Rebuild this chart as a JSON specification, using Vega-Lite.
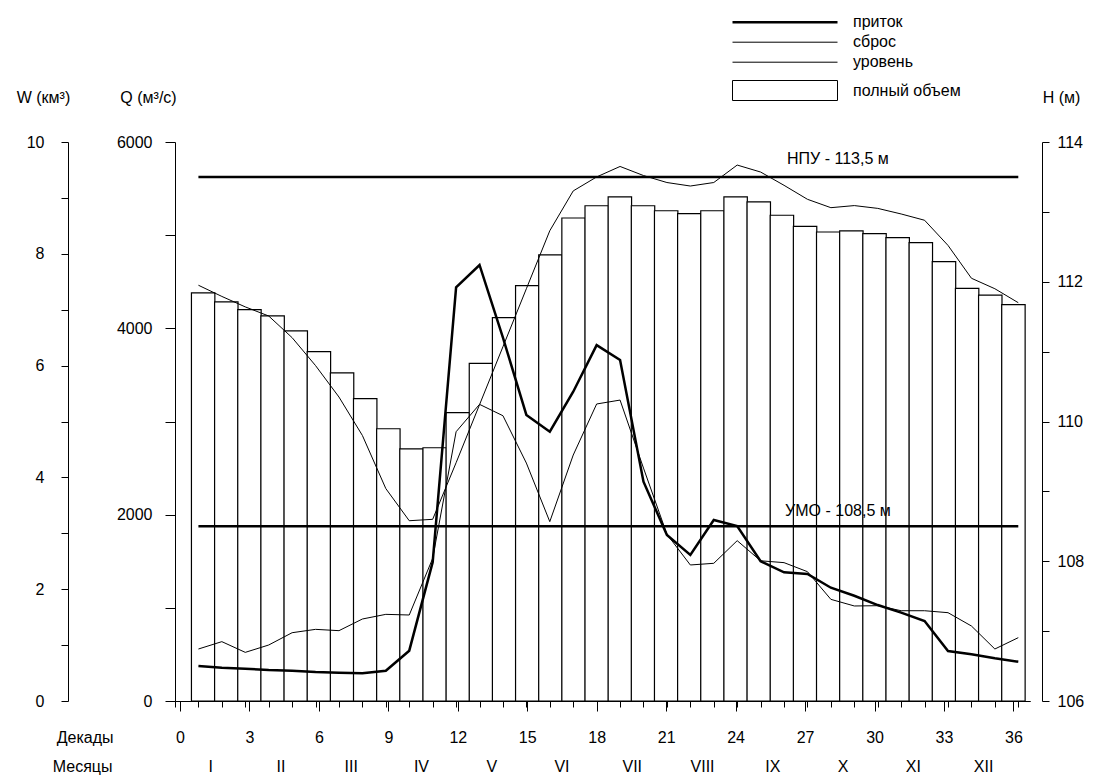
{
  "$schema": "https://vega.github.io/schema/vega-lite/v6.json",
  "width": 855,
  "height": 559,
  "autosize": {"type": "none"},
  "padding": {"left": 175, "top": 142, "right": 66, "bottom": 77},
  "background": "white",
  "config": {
    "font": "Liberation Sans",
    "view": {"stroke": null},
    "axis": {"labelFont": "Liberation Sans", "titleFont": "Liberation Sans", "labelFontSize": 16, "titleFontSize": 16, "titleFontWeight": "normal", "labelColor": "black", "titleColor": "black", "domainColor": "black", "tickColor": "black", "domainWidth": 1, "tickWidth": 1, "grid": false, "labelFlush": false, "labelOverlap": false},
    "legend": {"labelFont": "Liberation Sans", "labelFontSize": 16, "labelColor": "black"}
  },
  "data": {"values": [
    {"декада": 1, "W": 7.30, "приток": 376, "сброс": 558, "уровень": 111.95},
    {"декада": 2, "W": 7.14, "приток": 357, "сброс": 637, "уровень": 111.79},
    {"декада": 3, "W": 7.00, "приток": 347, "сброс": 522, "уровень": 111.64},
    {"декада": 4, "W": 6.89, "приток": 333, "сброс": 601, "уровень": 111.51},
    {"декада": 5, "W": 6.62, "приток": 325, "сброс": 733, "уровень": 111.20},
    {"декада": 6, "W": 6.25, "приток": 311, "сброс": 769, "уровень": 110.80},
    {"декада": 7, "W": 5.87, "приток": 304, "сброс": 755, "уровень": 110.35},
    {"декада": 8, "W": 5.41, "приток": 297, "сброс": 880, "уровень": 109.80},
    {"декада": 9, "W": 4.87, "приток": 325, "сброс": 930, "уровень": 109.04},
    {"декада": 10, "W": 4.51, "приток": 540, "сброс": 923, "уровень": 108.58},
    {"декада": 11, "W": 4.53, "приток": 1490, "сброс": 1530, "уровень": 108.60},
    {"декада": 12, "W": 5.16, "приток": 4440, "сброс": 2890, "уровень": 109.41},
    {"декада": 13, "W": 6.04, "приток": 4680, "сброс": 3184, "уровень": 110.24},
    {"декада": 14, "W": 6.86, "приток": 3900, "сброс": 3062, "уровень": 111.07},
    {"декада": 15, "W": 7.43, "приток": 3070, "сброс": 2554, "уровень": 111.90},
    {"декада": 16, "W": 7.98, "приток": 2890, "сброс": 1925, "уровень": 112.73},
    {"декада": 17, "W": 8.64, "приток": 3320, "сброс": 2640, "уровень": 113.30},
    {"декада": 18, "W": 8.86, "приток": 3820, "сброс": 3188, "уровень": 113.50},
    {"декада": 19, "W": 9.02, "приток": 3660, "сброс": 3230, "уровень": 113.65},
    {"декада": 20, "W": 8.86, "приток": 2354, "сброс": 2500, "уровень": 113.52},
    {"декада": 21, "W": 8.77, "приток": 1782, "сброс": 1790, "уровень": 113.42},
    {"декада": 22, "W": 8.72, "приток": 1567, "сброс": 1460, "уровень": 113.37},
    {"декада": 23, "W": 8.77, "приток": 1943, "сброс": 1478, "уровень": 113.42},
    {"декада": 24, "W": 9.02, "приток": 1878, "сброс": 1721, "уровень": 113.67},
    {"декада": 25, "W": 8.93, "приток": 1500, "сброс": 1505, "уровень": 113.57},
    {"декада": 26, "W": 8.69, "приток": 1381, "сброс": 1485, "уровень": 113.38},
    {"декада": 27, "W": 8.49, "приток": 1363, "сброс": 1388, "уровень": 113.18},
    {"декада": 28, "W": 8.39, "приток": 1216, "сброс": 1091, "уровень": 113.06},
    {"декада": 29, "W": 8.41, "приток": 1130, "сброс": 1020, "уровень": 113.09},
    {"декада": 30, "W": 8.36, "приток": 1030, "сброс": 1023, "уровень": 113.05},
    {"декада": 31, "W": 8.29, "приток": 948, "сброс": 969, "уровень": 112.97},
    {"декада": 32, "W": 8.20, "приток": 859, "сброс": 969, "уровень": 112.88},
    {"декада": 33, "W": 7.86, "приток": 537, "сброс": 948, "уровень": 112.52},
    {"декада": 34, "W": 7.38, "приток": 501, "сброс": 805, "уровень": 112.05},
    {"декада": 35, "W": 7.26, "приток": 458, "сброс": 558, "уровень": 111.90},
    {"декада": 36, "W": 7.09, "приток": 422, "сброс": 680, "уровень": 111.70}
  ]},
  "resolve": {"scale": {"x": "independent", "y": "independent"}},
  "layer": [
    {
      "mark": {"type": "bar", "orient": "vertical", "stroke": "black", "strokeWidth": 1.2, "width": 23.42},
      "encoding": {
        "x": {"field": "декада", "type": "quantitative", "scale": {"domain": [0, 36.5], "nice": false, "zero": false},
          "axis": {"orient": "bottom", "values": [0, 3, 6, 9, 12, 15, 18, 21, 24, 27, 30, 33, 36], "tickSize": 10, "labelPadding": 26, "labelBaseline": "middle", "title": "Декады", "titleAngle": 0, "titleAlign": "right", "titleBaseline": "middle", "titleX": -62, "titleY": 36}},
        "y": {"field": "W", "type": "quantitative", "stack": null, "scale": {"domain": [0, 10], "nice": false},
          "axis": {"orient": "left", "offset": 107, "values": [0, 1, 2, 3, 4, 5, 6, 7, 8, 9, 10], "tickSize": 7, "labelPadding": 17, "labelExpr": "datum.value % 2 === 0 ? datum.label : ''", "title": "W (км³)", "titleAngle": 0, "titleAlign": "center", "titleBaseline": "middle", "titleX": -25, "titleY": -45}},
        "fill": {"datum": "полный объем", "type": "nominal", "scale": {"domain": ["полный объем"], "range": ["white"]},
          "legend": {"title": null, "orient": "none", "legendX": 602, "legendY": -59.5, "padding": 0, "symbolType": "M-10.5,-2L10.5,-2L10.5,2L-10.5,2Z", "symbolSize": 100, "symbolStrokeColor": "black", "symbolStrokeWidth": 1, "symbolFillColor": "white", "labelOffset": 60, "labelFontSize": 16,
            "encode": {"symbols": {"update": {"stroke": {"value": "black"}, "strokeWidth": {"value": 1}, "fill": {"value": "white"}}}}}}
      }
    },
    {
      "transform": [{"fold": ["приток", "сброс"], "as": ["серия", "Q"]}],
      "mark": {"type": "line", "color": "black"},
      "encoding": {
        "x": {"field": "декада", "type": "quantitative", "scale": {"domain": [0, 36.5], "nice": false, "zero": false},
          "axis": {"orient": "bottom", "values": [0, 1, 2, 3, 4, 5, 6, 7, 8, 9, 10, 11, 12, 13, 14, 15, 16, 17, 18, 19, 20, 21, 22, 23, 24, 25, 26, 27, 28, 29, 30, 31, 32, 33, 34, 35, 36], "tickSize": 6, "labels": false, "title": null}},
        "y": {"field": "Q", "type": "quantitative", "scale": {"domain": [0, 6000], "nice": false},
          "axis": {"orient": "left", "values": [0, 1000, 2000, 3000, 4000, 5000, 6000], "format": "d", "tickSize": 10, "labelPadding": 13, "labelExpr": "datum.value % 2000 === 0 ? datum.label : ''", "title": "Q (м³/с)", "titleAngle": 0, "titleAlign": "center", "titleBaseline": "middle", "titleX": -27, "titleY": -45}},
        "strokeWidth": {"field": "серия", "type": "nominal", "scale": {"type": "ordinal", "domain": ["приток", "сброс", "уровень"], "range": [2.5, 1, 1]},
          "legend": {"title": null, "orient": "none", "legendX": 602, "legendY": -127.8, "padding": 0, "symbolType": "M-10.5,0L10.5,0", "symbolSize": 100, "symbolStrokeColor": "black", "labelOffset": 60, "rowPadding": 4, "labelFontSize": 16}}
      }
    },
    {
      "layer": [
        {
          "mark": {"type": "line", "color": "black", "strokeWidth": 1},
          "encoding": {
            "x": {"field": "декада", "type": "quantitative", "scale": {"domain": [0, 36.5], "nice": false, "zero": false},
              "axis": {"orient": "bottom", "values": [1.5, 4.5, 7.5, 10.5, 13.5, 16.5, 19.5, 22.5, 25.5, 28.5, 31.5, 34.5], "domain": false, "ticks": false, "tickSize": 0, "labelPadding": 65, "labelBaseline": "middle", "labelExpr": "['I','II','III','IV','V','VI','VII','VIII','IX','X','XI','XII'][floor(datum.value / 3)]", "title": "Месяцы", "titleAngle": 0, "titleAlign": "right", "titleBaseline": "middle", "titleX": -63, "titleY": 65}},
            "y": {"field": "уровень", "type": "quantitative", "scale": {"domain": [106, 114], "nice": false, "zero": false},
              "axis": {"orient": "right", "offset": 12, "values": [106, 107, 108, 109, 110, 111, 112, 113, 114], "format": "d", "tickSize": 7, "labelPadding": 8, "labelExpr": "datum.value % 2 === 0 ? datum.label : ''", "title": "H (м)", "titleAngle": 0, "titleAlign": "center", "titleBaseline": "middle", "titleX": 19, "titleY": -45}}
          }
        },
        {
          "data": {"values": [{"метка": "НПУ - 113,5 м", "H": 113.5}, {"метка": "УМО - 108,5 м", "H": 108.5}]},
          "mark": {"type": "rule", "color": "black", "strokeWidth": 2.5},
          "encoding": {
            "x": {"datum": 1, "type": "quantitative"},
            "x2": {"datum": 36},
            "y": {"field": "H", "type": "quantitative"}
          }
        },
        {
          "data": {"values": [{"метка": "НПУ - 113,5 м", "H": 113.5}, {"метка": "УМО - 108,5 м", "H": 108.5}]},
          "transform": [{"filter": "datum.H > 110"}],
          "mark": {"type": "text", "dy": -18, "fontSize": 16, "font": "Liberation Sans", "color": "black"},
          "encoding": {
            "x": {"datum": 28.3, "type": "quantitative"},
            "y": {"field": "H", "type": "quantitative"},
            "text": {"field": "метка"}
          }
        },
        {
          "data": {"values": [{"метка": "НПУ - 113,5 м", "H": 113.5}, {"метка": "УМО - 108,5 м", "H": 108.5}]},
          "transform": [{"filter": "datum.H < 110"}],
          "mark": {"type": "text", "dy": -15, "fontSize": 16, "font": "Liberation Sans", "color": "black"},
          "encoding": {
            "x": {"datum": 28.3, "type": "quantitative"},
            "y": {"field": "H", "type": "quantitative"},
            "text": {"field": "метка"}
          }
        }
      ]
    }
  ]
}
